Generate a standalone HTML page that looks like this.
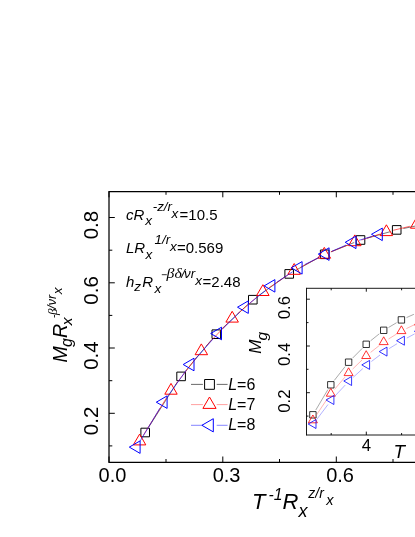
<!DOCTYPE html><html><head><meta charset="utf-8"><style>html,body{margin:0;padding:0;background:#fff}svg{display:block;will-change:transform}text{font-family:"Liberation Sans",sans-serif;fill:#000}.i{font-style:italic}.s{font-family:"Liberation Serif",serif;font-style:italic}</style></head><body>
<svg width="415" height="537" viewBox="0 0 415 537">
<rect width="415" height="537" fill="#fff"/>
<g stroke="#000" stroke-width="1.25" fill="none"><path d="M109.0 190.9V462.90000000000003M109.0 191.5H420M109.0 462.3H420"/></g>
<path d="M166.0 462.3v-3.3M166.0 191.5v3.3M222.8 462.3v-5.8M222.8 191.5v5.8M279.5 462.3v-3.3M279.5 191.5v3.3M336.3 462.3v-5.8M336.3 191.5v5.8M393.0 462.3v-3.3M393.0 191.5v3.3M109.0 462.3v-5.8M109.0 191.5v5.8M109.0 445.9h3.3M109.0 413.3h5.8M109.0 380.7h3.3M109.0 348.0h5.8M109.0 315.4h3.3M109.0 282.8h5.8M109.0 250.2h3.3M109.0 217.5h5.8" stroke="#000" stroke-width="1" fill="none"/>
<text x="112.5" y="482.4" font-size="20" text-anchor="middle">0.0</text>
<text x="226.6" y="482.4" font-size="20" text-anchor="middle">0.3</text>
<text x="340.1" y="482.4" font-size="20" text-anchor="middle">0.6</text>
<text transform="translate(98.2 420.9) rotate(-90)" font-size="20.5" text-anchor="middle">0.2</text>
<text transform="translate(98.2 355.6) rotate(-90)" font-size="20.5" text-anchor="middle">0.4</text>
<text transform="translate(98.2 290.4) rotate(-90)" font-size="20.5" text-anchor="middle">0.6</text>
<text transform="translate(98.2 225.1) rotate(-90)" font-size="20.5" text-anchor="middle">0.8</text>
<path d="M148.9 426.8L177.4 382.1M185.5 371.2L211.9 339.4M221.2 329.5L247.9 304.4M258.3 295.8L283.7 277.8M295.2 270.6L318.7 257.6M331.0 251.8L354.2 242.5M367.0 238.2L390.2 231.7M403.4 228.5L425.9 223.9" stroke="#222" stroke-width="0.6" fill="none"/>
<path d="M140.9 428.2h8.6v8.6h-8.6zM176.8 372.1h8.6v8.6h-8.6zM212.0 329.9h8.6v8.6h-8.6zM248.5 295.4h8.6v8.6h-8.6zM284.9 269.6h8.6v8.6h-8.6zM320.4 250.0h8.6v8.6h-8.6zM356.2 235.7h8.6v8.6h-8.6zM392.4 225.6h8.6v8.6h-8.6zM428.3 218.2h8.6v8.6h-8.6z" stroke="#000" stroke-width="1.0" fill="none" stroke-linejoin="miter"/>
<path d="M143.3 435.3L167.3 396.6M175.3 385.0L197.0 356.7M206.1 346.0L227.4 323.6M237.5 313.9L257.6 296.5M268.7 288.0L288.4 274.6M300.4 267.4L318.1 257.9M330.8 251.9L348.3 244.8M361.5 240.0L379.7 234.1M393.2 230.3L409.8 226.3" stroke="#f00" stroke-width="0.6" fill="none"/>
<path d="M139.6 434.1L145.8 444.9L133.3 444.9zM171.0 383.4L177.2 394.2L164.8 394.2zM201.3 343.9L207.6 354.7L195.1 354.7zM232.2 311.3L238.4 322.1L225.9 322.1zM262.9 284.7L269.1 295.5L256.6 295.5zM294.2 263.5L300.4 274.3L287.9 274.3zM324.3 247.4L330.6 258.2L318.1 258.2zM354.8 234.9L361.1 245.7L348.6 245.7zM386.4 224.8L392.6 235.6L380.1 235.6zM416.6 217.4L422.9 228.2L410.4 228.2z" stroke="#f00" stroke-width="1.0" fill="none" stroke-linejoin="miter"/>
<path d="M140.1 441.1L159.9 408.2M167.6 396.5L186.3 370.2M195.0 359.3L213.3 338.7M222.9 328.6L239.7 312.1M250.2 302.8L265.8 290.3M277.1 282.0L292.7 271.7M304.7 264.6L319.3 257.3M331.9 251.3L346.0 245.1M359.1 240.3L372.0 236.3" stroke="#00f" stroke-width="0.6" fill="none"/>
<path d="M129.3 447.1L140.1 440.9L140.1 453.4zM156.3 402.2L167.1 395.9L167.1 408.4zM183.2 364.5L194.0 358.2L194.0 370.8zM210.7 333.5L221.5 327.2L221.5 339.8zM237.5 307.2L248.3 300.9L248.3 313.4zM264.1 285.9L274.9 279.6L274.9 292.1zM291.3 267.8L302.1 261.6L302.1 274.1zM318.3 254.1L329.1 247.8L329.1 260.4zM345.2 242.3L356.0 236.1L356.0 248.6zM371.5 234.3L382.3 228.1L382.3 240.6z" stroke="#00f" stroke-width="1.0" fill="none" stroke-linejoin="miter"/>
<path d="M191 384.4H202.9M216.7 384.4H227.6" stroke="#444" stroke-width="0.8" fill="none"/>
<path d="M204.6 379.5h9.8v9.8h-9.8z" stroke="#000" stroke-width="1" fill="none"/>
<path d="M191 404.6H202.9M216.7 404.6H227.6" stroke="#f88" stroke-width="0.8" fill="none"/>
<path d="M209.5 397.0L216.1 408.4L202.9 408.4z" stroke="#f00" stroke-width="1" fill="none"/>
<path d="M191 425.3H202.9M216.7 425.3H227.6" stroke="#66f" stroke-width="0.8" fill="none"/>
<path d="M201.9 425.3L213.3 418.7L213.3 431.9z" stroke="#00f" stroke-width="1" fill="none"/>
<text x="228.2" y="390" font-size="16"><tspan class="i">L</tspan>=6</text>
<text x="228.2" y="409.6" font-size="16"><tspan class="i">L</tspan>=7</text>
<text x="228.2" y="430.1" font-size="16"><tspan class="i">L</tspan>=8</text>
<path d="M306.5 287.8V435.5M306.5 288.3H420M306.5 435.0H420" stroke="#000" stroke-width="0.9" fill="none"/>
<path d="M331.2 435.0v-2.0M331.2 288.3v2.0M366.3 435.0v-3.4M366.3 288.3v3.4M401.6 435.0v-2.0M401.6 288.3v2.0M306.5 416.1h2.0M306.5 392.7h3.4M306.5 369.3h2.0M306.5 346.0h3.4M306.5 322.6h2.0M306.5 299.2h3.4" stroke="#000" stroke-width="0.9" fill="none"/>
<text transform="translate(290.4 401.1) rotate(-90)" font-size="16.8" text-anchor="middle">0.2</text>
<text transform="translate(290.4 354.4) rotate(-90)" font-size="16.8" text-anchor="middle">0.4</text>
<text transform="translate(290.4 307.6) rotate(-90)" font-size="16.8" text-anchor="middle">0.6</text>
<text x="366.4" y="451.2" font-size="16.8" text-anchor="middle">4</text>
<text x="393.4" y="457.7" font-size="18.8" class="i">T</text>
<g transform="translate(260.8 353.8) rotate(-90)"><text><tspan x="0" y="0" font-size="17" class="i">M</tspan><tspan x="13.2" y="6.2" font-size="15.5" class="i">g</tspan></text></g>
<path d="M315.8 410.0L327.9 389.6M334.3 380.4L345.1 366.6M352.5 358.2L362.3 348.3M370.6 340.8L379.3 333.8M388.5 327.5L396.6 322.7M406.5 317.6L413.9 314.3" stroke="#555" stroke-width="0.5" fill="none"/>
<path d="M309.7 411.6h6.4v6.4h-6.4zM327.6 381.6h6.4v6.4h-6.4zM345.4 359.0h6.4v6.4h-6.4zM363.0 341.1h6.4v6.4h-6.4zM380.5 327.1h6.4v6.4h-6.4zM398.2 316.7h6.4v6.4h-6.4zM415.8 308.8h6.4v6.4h-6.4z" stroke="#000" stroke-width="0.8" fill="none" stroke-linejoin="miter"/>
<path d="M316.0 415.6L327.7 398.2M334.5 389.4L344.9 377.2M352.6 369.1L362.2 359.8M370.6 352.4L379.3 345.5M388.5 339.0L396.6 334.0M406.4 328.6L414.0 324.9" stroke="#f66" stroke-width="0.5" fill="none"/>
<path d="M312.9 415.0L317.4 422.8L308.4 422.8zM330.8 388.4L335.3 396.2L326.3 396.2zM348.6 367.8L353.1 375.6L344.1 375.6zM366.2 350.7L370.7 358.5L361.7 358.5zM383.7 336.8L388.2 344.6L379.2 344.6zM401.4 325.8L405.9 333.6L396.9 333.6zM419.0 317.3L423.5 325.1L414.5 325.1z" stroke="#f00" stroke-width="0.8" fill="none" stroke-linejoin="miter"/>
<path d="M316.7 419.5L328.0 404.5M335.1 395.9L345.2 385.1M353.2 377.3L362.8 368.6M371.4 361.5L380.0 355.0M389.1 348.6L397.1 343.7M406.8 338.1L414.6 333.9" stroke="#66f" stroke-width="0.5" fill="none"/>
<path d="M308.2 424.0L316.0 419.5L316.0 428.5zM326.1 400.0L333.9 395.5L333.9 404.5zM343.8 381.0L351.6 376.5L351.6 385.5zM361.8 364.9L369.6 360.4L369.6 369.4zM379.2 351.6L387.0 347.1L387.0 356.1zM396.6 340.7L404.4 336.2L404.4 345.2zM414.4 331.3L422.2 326.8L422.2 335.8z" stroke="#00f" stroke-width="0.8" fill="none" stroke-linejoin="miter"/>
<text><tspan x="126.0" y="219.7" font-size="15" class="i">cR</tspan><tspan x="145.3" y="225.29999999999998" font-size="13.5" class="i">x</tspan><tspan x="152.8" y="211.0" font-size="13.3" class="i">-z/r</tspan><tspan x="171.6" y="217.7" font-size="13.5" class="i">x</tspan><tspan x="179.6" y="219.7" font-size="15">=10.5</tspan></text>
<text><tspan x="126.0" y="253.1" font-size="15" class="i">LR</tspan><tspan x="145.5" y="258.7" font-size="13.5" class="i">x</tspan><tspan x="154.6" y="244.4" font-size="13.3" class="i">1/r</tspan><tspan x="169.9" y="251.1" font-size="13.5" class="i">x</tspan><tspan x="177.0" y="253.1" font-size="15">=0.569</tspan></text>
<text><tspan x="126.0" y="286.9" font-size="15" class="i">h</tspan><tspan x="134.2" y="290.9" font-size="13.5" class="i">z</tspan><tspan x="142.2" y="286.9" font-size="15" class="i">R</tspan><tspan x="154.4" y="292.5" font-size="13.5" class="i">x</tspan><tspan x="166.6" y="278.2" font-size="15" class="s" textLength="15.2" lengthAdjust="spacingAndGlyphs">βδ</tspan><tspan x="181.2" y="278.2" font-size="13.3" class="i">/</tspan><tspan x="184" y="278.2" font-size="13.3" class="i">νr</tspan><tspan x="195.2" y="284.9" font-size="13.5" class="i">x</tspan><tspan x="202.6" y="286.9" font-size="15">=2.48</tspan></text>
<path d="M161.8 274.7H166.8" stroke="#000" stroke-width="0.8"/>
<g transform="translate(66.8 362.5) rotate(-90)"><text><tspan x="0" y="0" font-size="19.5" class="i">M</tspan><tspan x="15.6" y="5.5" font-size="16" class="i">g</tspan><tspan x="24.5" y="0" font-size="19.5" class="i">R</tspan><tspan x="37.3" y="5.6" font-size="15.5" class="i">x</tspan><tspan x="44.6" y="-10.3" font-size="10">-</tspan><tspan x="47.6" y="-10.3" font-size="13" class="s">β</tspan><tspan x="53.7" y="-10.5" font-size="12.6" class="i">/νr</tspan><tspan x="68.2" y="-4.9" font-size="13.5" class="i">x</tspan></text></g>
<text><tspan x="252" y="508.5" font-size="22" class="i">T</tspan><tspan x="268.6" y="499.8" font-size="15.7" class="i">-1</tspan><tspan x="282.6" y="508.5" font-size="22" class="i">R</tspan><tspan x="298.6" y="516.7" font-size="18" class="i">x</tspan><tspan x="308.3" y="498.3" font-size="14" class="i">z/r</tspan><tspan x="326.2" y="504.8" font-size="14.5" class="i">x</tspan></text>
</svg></body></html>
